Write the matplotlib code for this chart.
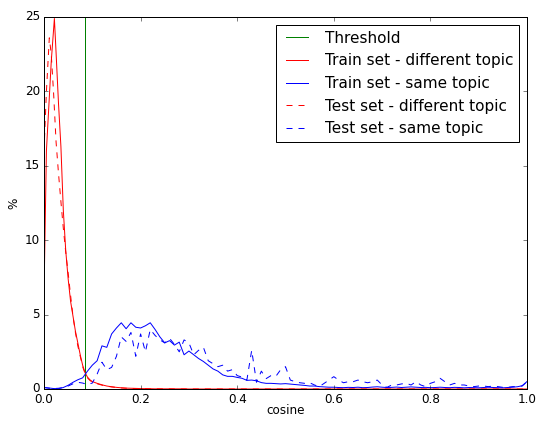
import numpy as np
import matplotlib
matplotlib.use("Agg")
import matplotlib.pyplot as plt

plt.style.use("classic")

# ---- data ----
threshold = 0.085

red_x = [0.0, 0.005, 0.01, 0.015, 0.0215, 0.025, 0.03, 0.035, 0.04, 0.045, 0.05,
         0.055, 0.06, 0.065, 0.07, 0.075, 0.08, 0.085, 0.09, 0.095, 0.10,
         0.11, 0.12, 0.13, 0.14, 0.15, 0.16, 0.17, 0.18, 0.19, 0.20,
         0.21, 0.22, 0.23, 0.24, 0.25, 0.26, 0.27, 0.28, 0.29, 0.30,
         0.40, 0.50, 0.60, 0.70, 0.80, 0.90, 1.00]

train_diff = [6.3, 16.0, 19.0, 22.0, 24.9, 22.6, 19.2, 16.3, 12.0, 9.3, 7.4,
              5.9, 4.9, 3.9, 3.1, 2.3, 1.6, 1.1, 0.8, 0.62, 0.5,
              0.38, 0.28, 0.2, 0.15, 0.11, 0.08, 0.06, 0.05, 0.04, 0.03,
              0.02, 0.02, 0.01, 0.01, 0.01, 0.01, 0.01, 0.01, 0.01, 0.0,
              0.0, 0.0, 0.0, 0.0, 0.0, 0.0, 0.0]

test_diff_x = [0.0, 0.005, 0.011, 0.015, 0.02, 0.025, 0.03, 0.035, 0.04, 0.045, 0.05,
               0.055, 0.06, 0.065, 0.07, 0.075, 0.08, 0.085, 0.09, 0.095, 0.10,
               0.11, 0.12, 0.13, 0.14, 0.15, 0.16, 0.17, 0.18, 0.19, 0.20,
               0.21, 0.22, 0.23, 0.24, 0.25, 0.26, 0.27, 0.28, 0.29, 0.30,
               0.40, 0.50, 0.60, 0.70, 0.80, 0.90, 1.00]

test_diff = [16.0, 20.0, 23.6, 22.5, 19.8, 16.6, 14.5, 12.6, 10.8, 9.2, 7.8,
             6.3, 4.9, 3.8, 2.9, 2.2, 1.5, 1.05, 0.75, 0.58, 0.46,
             0.35, 0.26, 0.19, 0.14, 0.1, 0.07, 0.05, 0.04, 0.03, 0.02,
             0.02, 0.01, 0.01, 0.01, 0.01, 0.01, 0.0, 0.0, 0.0, 0.0,
             0.0, 0.0, 0.0, 0.0, 0.0, 0.0, 0.0]

cosine = np.linspace(0.0, 1.0, 101)

train_same = [0.10, 0.07, 0.03, 0.02, 0.10, 0.25, 0.45, 0.62, 0.75, 1.2,
              1.6, 1.9, 2.9, 2.8, 3.7, 4.1, 4.45, 4.05, 4.45, 4.15,
              4.1, 4.25, 4.45, 4.0, 3.5, 3.1, 3.25, 2.95, 3.15, 2.3,
              2.55, 2.3, 2.05, 1.85, 1.6, 1.35, 1.2, 0.95, 0.85, 0.85,
              0.78, 0.72, 0.58, 0.6, 0.55, 0.43, 0.38, 0.38, 0.36, 0.34,
              0.36, 0.33, 0.3, 0.27, 0.24, 0.2, 0.2, 0.16, 0.14, 0.12,
              0.12, 0.1, 0.09, 0.11, 0.1, 0.12, 0.09, 0.1, 0.13, 0.15,
              0.12, 0.1, 0.11, 0.13, 0.1, 0.12, 0.14, 0.12, 0.1, 0.11,
              0.09, 0.1, 0.12, 0.1, 0.09, 0.11, 0.1, 0.08, 0.1, 0.09,
              0.08, 0.1, 0.12, 0.1, 0.09, 0.08, 0.1, 0.12, 0.15, 0.22,
              0.5]

test_same = [0.1, 0.05, 0.03, 0.05, 0.1, 0.2, 0.35, 0.45, 0.4, 0.3,
             0.4, 1.0, 1.8, 1.3, 1.45, 2.2, 3.5, 3.2, 3.8, 2.2,
             3.7, 2.5, 4.0, 3.6, 3.3, 3.1, 3.4, 3.0, 2.5, 3.3,
             3.1, 2.3, 2.6, 2.8, 1.9, 1.7, 1.5, 1.6, 1.2, 1.3,
             0.9, 0.8, 0.6, 2.6, 0.45, 1.2, 0.7, 0.9, 0.85, 1.3,
             1.5, 0.6, 0.49, 0.42, 0.38, 0.42, 0.27, 0.16, 0.38, 0.6,
             0.83, 0.6, 0.42, 0.49, 0.49, 0.6, 0.49, 0.42, 0.49, 0.6,
             0.27, 0.11, 0.27, 0.27, 0.34, 0.38, 0.27, 0.49, 0.27, 0.16,
             0.38, 0.49, 0.72, 0.49, 0.27, 0.38, 0.27, 0.27, 0.2, 0.16,
             0.2, 0.2, 0.16, 0.2, 0.16, 0.11, 0.11, 0.16, 0.16, 0.2,
             0.49]

labels = ["Threshold", "Train set - different topic", "Train set - same topic",
          "Test set - different topic", "Test set - same topic"]

# ---- plot ----
fig = plt.figure(figsize=(537 / 72, 423 / 72), dpi=72, facecolor="white")
ax = fig.add_axes([44 / 537, 34 / 423, 483 / 537, 372 / 423])

ax.axvline(threshold, color="g", label=labels[0])
ax.plot(red_x, train_diff, "r-", label=labels[1])
ax.plot(cosine, train_same, "b-", label=labels[2])
ax.plot(test_diff_x, test_diff, "r--", label=labels[3])
ax.plot(cosine, test_same, "b--", label=labels[4])

ax.set_xlim(0, 1)
ax.set_ylim(0, 25)
ax.set_xlabel("cosine", labelpad=-2)
ax.set_ylabel("%")
ax.legend(loc="upper right", fontsize=15.3)

fig.savefig("out.png", dpi=72, facecolor="white")
